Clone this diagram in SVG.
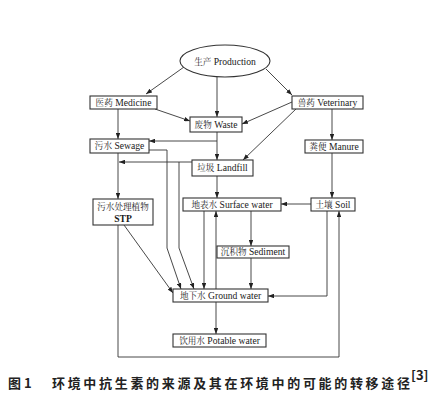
<svg xmlns="http://www.w3.org/2000/svg" width="432" height="402" viewBox="0 0 432 402">
<defs>
<marker id="ah" viewBox="0 0 8 6" refX="8" refY="3" markerWidth="6" markerHeight="4.5" orient="auto" markerUnits="userSpaceOnUse">
<path d="M0,0 L8,3 L0,6 z" fill="#222"/>
</marker>
<style>
.box{fill:#fff;stroke:#333;stroke-width:1.1}
.t{font-family:"Liberation Serif","Noto Serif CJK SC","Noto Sans CJK SC",serif;font-size:9.6px;fill:#1a1a1a;text-anchor:middle}
.z{font-size:8.6px}
.c{fill:none;stroke:#333;stroke-width:0.9}
.a{fill:none;stroke:#333;stroke-width:0.9;marker-end:url(#ah)}
.cap{font-family:"Noto Sans CJK SC","Noto Sans",sans-serif;font-size:13px;fill:#222;font-weight:700}
</style>
</defs>
<rect width="432" height="402" fill="#fff"/>

<g id="connectors">
<line class="a" x1="184" y1="67" x2="146" y2="94"/>
<line class="a" x1="217" y1="77" x2="217" y2="117"/>
<line class="a" x1="266" y1="69" x2="292" y2="95"/>
<line class="a" x1="155" y1="109" x2="190" y2="121"/>
<line class="a" x1="292" y1="102" x2="242" y2="124"/>
<line class="a" x1="297" y1="108" x2="243" y2="160"/>
<line class="a" x1="118" y1="109" x2="118" y2="139"/>
<line class="a" x1="332" y1="109" x2="332" y2="140"/>
<line class="a" x1="217" y1="132" x2="217" y2="160"/>
<line class="a" x1="217" y1="141" x2="149" y2="141"/>
<line class="a" x1="332" y1="153" x2="332" y2="198"/>
<line class="a" x1="192" y1="162" x2="119" y2="162"/>
<polyline class="a" points="179,162 179,248 194,289"/>
<polyline class="a" points="149,150 167,150 167,248 181,289"/>
<line class="a" x1="118" y1="153" x2="118" y2="199"/>
<line class="a" x1="217" y1="176" x2="217" y2="198"/>
<line class="a" x1="311" y1="204" x2="281" y2="204"/>
<line class="a" x1="124" y1="225" x2="173" y2="293"/>
<polyline class="a" points="118,225 118,357 339,357 339,211"/>
<line class="a" x1="204" y1="211" x2="204" y2="289"/>
<line class="a" x1="216" y1="289" x2="216" y2="211"/>
<line class="a" x1="251" y1="211" x2="251" y2="246"/>
<line class="a" x1="251" y1="258" x2="251" y2="289"/>
<polyline class="a" points="327,211 327,296 268,296"/>
<line class="a" x1="216" y1="302" x2="216" y2="334"/>
</g>

<g id="production">
<ellipse class="box" cx="225" cy="61" rx="45" ry="16"/>
<text class="t" x="225" y="64.5"><tspan class="z">生产</tspan> Production</text>
</g>
<g id="medicine">
<rect class="box" x="90" y="96" width="67" height="13"/>
<text class="t" x="123.5" y="105.8"><tspan class="z">医药</tspan> Medicine</text>
</g>
<g id="veterinary">
<rect class="box" x="292" y="96" width="71" height="13"/>
<text class="t" x="327.5" y="105.8"><tspan class="z">兽药</tspan> Veterinary</text>
</g>
<g id="waste">
<rect class="box" x="190" y="117" width="52" height="15"/>
<text class="t" x="216" y="127.8"><tspan class="z">废物</tspan> Waste</text>
</g>
<g id="sewage">
<rect class="box" x="90" y="139" width="59" height="14"/>
<text class="t" x="119.5" y="149.3"><tspan class="z">污水</tspan> Sewage</text>
</g>
<g id="manure">
<rect class="box" x="305" y="140" width="58" height="13"/>
<text class="t" x="334" y="149.8"><tspan class="z">粪便</tspan> Manure</text>
</g>
<g id="landfill">
<rect class="box" x="192" y="160" width="61" height="16"/>
<text class="t" x="222.5" y="171.3"><tspan class="z">垃圾</tspan> Landfill</text>
</g>
<g id="surface-water">
<rect class="box" x="183" y="198" width="98" height="13"/>
<text class="t" x="232" y="207.8"><tspan class="z">地表水</tspan> Surface water</text>
</g>
<g id="soil">
<rect class="box" x="311" y="198" width="44" height="13"/>
<text class="t" x="333" y="207.8"><tspan class="z">土壤</tspan> Soil</text>
</g>
<g id="stp">
<rect class="box" x="93" y="199" width="60" height="26"/>
<text class="t z" x="123" y="210">污水处理植物</text>
<text class="t" x="123" y="221.5" font-weight="bold">STP</text>
</g>
<g id="sediment">
<rect class="box" x="217" y="246" width="72" height="12"/>
<text class="t" x="253" y="255.3"><tspan class="z">沉积物</tspan> Sediment</text>
</g>
<g id="ground-water">
<rect class="box" x="173" y="289" width="95" height="13"/>
<text class="t" x="220.5" y="298.8"><tspan class="z">地下水</tspan> Ground water</text>
</g>
<g id="potable-water">
<rect class="box" x="173" y="334" width="93" height="13"/>
<text class="t" x="219.5" y="343.8"><tspan class="z">饮用水</tspan> Potable water</text>
</g>

<g id="caption">
<text class="cap" x="8" y="388">图 1</text>
<text class="cap" x="52" y="388" textLength="358" lengthAdjust="spacing">环境中抗生素的来源及其在环境中的可能的转移途径</text>
<text class="cap" x="411" y="380" font-size="6" font-weight="400">[3]</text>
</g>
</svg>
